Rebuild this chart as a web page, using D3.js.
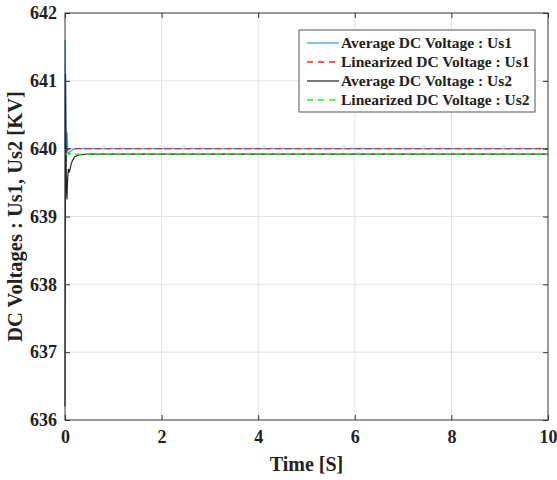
<!DOCTYPE html>
<html>
<head>
<meta charset="utf-8">
<script src="https://cdn.jsdelivr.net/npm/d3@7"></script>
<style>
  body { margin: 0; background: #fff; }
  text { font-family: "Liberation Serif", "Times New Roman", serif; font-weight: bold; }
</style>
</head>
<body>
<div id="chart"></div>
<script>
const width = 557;
const height = 480;
const margin = { top: 13, right: 9, bottom: 60, left: 65 };

// Average DC voltage Us1 (blue)
const tUs1 = [0, 0.005, 0.01, 0.015, 0.02, 0.03, 0.04, 0.05, 0.06, 0.08, 0.1, 0.15, 0.2, 0.3, 0.5, 10];
const vUs1 = [640, 641.6, 641.2, 640.6, 640.0, 639.8, 640.25, 640.1, 639.95, 639.93, 639.95, 639.98, 640.0, 640.0, 640.0, 640.0];

// Average DC voltage Us2 (black)
const tUs2 = [0, 0.005, 0.01, 0.02, 0.03, 0.04, 0.05, 0.07, 0.09, 0.12, 0.15, 0.2, 0.3, 0.5, 10];
const vUs2 = [636.2, 638.5, 641.1, 640.0, 639.4, 639.25, 639.5, 639.7, 639.65, 639.75, 639.82, 639.88, 639.91, 639.92, 639.92];

// Linearized references
const tLin = [0, 10];
const vLinUs1 = [640.0, 640.0];
const vLinUs2 = [639.92, 639.92];

const xTicks = [0, 2, 4, 6, 8, 10];
const yTicks = [636, 637, 638, 639, 640, 641, 642];

const series = [
  { name: "Average DC Voltage : Us1", t: tUs1, v: vUs1, color: "#3a96d8", dash: null, w: 1.2 },
  { name: "Linearized DC Voltage : Us1", t: tLin, v: vLinUs1, color: "#ff2020", dash: "6,4", w: 1.4 },
  { name: "Average DC Voltage : Us2", t: tUs2, v: vUs2, color: "#222", dash: null, w: 1.2 },
  { name: "Linearized DC Voltage : Us2", t: tLin, v: vLinUs2, color: "#22ee22", dash: "6,4", w: 1.4 }
];

const svg = d3.select('#chart').append('svg')
  .attr('width', width)
  .attr('height', height);

const x = d3.scaleLinear().domain([0, 10]).range([margin.left, width - margin.right]);
const y = d3.scaleLinear().domain([636, 642]).range([height - margin.bottom, margin.top]);

// grid
svg.append('g').selectAll('line.gx')
  .data(xTicks.slice(1, -1)).join('line')
  .attr('x1', d => x(d)).attr('x2', d => x(d))
  .attr('y1', y(636)).attr('y2', y(642))
  .attr('stroke', '#e2e2e2').attr('stroke-width', 1);
svg.append('g').selectAll('line.gy')
  .data(yTicks.slice(1, -1)).join('line')
  .attr('x1', x(0)).attr('x2', x(10))
  .attr('y1', d => y(d)).attr('y2', d => y(d))
  .attr('stroke', '#e2e2e2').attr('stroke-width', 1);

// lines
const line = d3.line().x(d => x(d[0])).y(d => y(d[1]));
series.forEach(s => {
  svg.append('path')
    .datum(s.t.map((t, i) => [t, s.v[i]]))
    .attr('d', line)
    .attr('fill', 'none')
    .attr('stroke', s.color)
    .attr('stroke-width', s.w)
    .attr('stroke-dasharray', s.dash);
});

// axes (ticks inward, MATLAB style)
const axisStyle = g => {
  g.select('.domain').remove();
  g.selectAll('.tick line').attr('stroke', '#333');
  g.selectAll('.tick text').attr('fill', '#222').style('font-size', '18px').style('font-weight', 'bold');
};
svg.append('g')
  .attr('transform', `translate(0,${y(636)})`)
  .call(d3.axisBottom(x).tickValues(xTicks).tickFormat(d3.format('d')).tickSize(-5).tickPadding(10))
  .call(axisStyle);
svg.append('g')
  .attr('transform', `translate(${x(0)},0)`)
  .call(d3.axisLeft(y).tickValues(yTicks).tickFormat(d3.format('d')).tickSize(-5).tickPadding(8))
  .call(axisStyle);
svg.append('g')
  .attr('transform', `translate(0,${y(642)})`)
  .call(d3.axisTop(x).tickValues(xTicks).tickSize(-5).tickFormat(''))
  .call(axisStyle);
svg.append('g')
  .attr('transform', `translate(${x(10)},0)`)
  .call(d3.axisRight(y).tickValues(yTicks).tickSize(-5).tickFormat(''))
  .call(axisStyle);

// frame
svg.append('rect')
  .attr('x', x(0)).attr('y', y(642))
  .attr('width', x(10) - x(0)).attr('height', y(636) - y(642))
  .attr('fill', 'none').attr('stroke', '#333').attr('stroke-width', 1);

// axis labels
svg.append('text')
  .attr('x', (x(0) + x(10)) / 2).attr('y', 471)
  .attr('text-anchor', 'middle')
  .style('font-size', '20px').attr('fill', '#222')
  .text('Time [S]');
svg.append('text')
  .attr('transform', `translate(22,${(y(636) + y(642)) / 2}) rotate(-90)`)
  .attr('text-anchor', 'middle')
  .style('font-size', '20.5px').attr('fill', '#222')
  .text('DC Voltages : Us1, Us2 [KV]');

// legend
const lg = svg.append('g').attr('transform', 'translate(299,30)');
lg.append('rect')
  .attr('width', 236).attr('height', 82)
  .attr('fill', '#fff').attr('stroke', '#555').attr('stroke-width', 1);
series.forEach((s, i) => {
  const yy = 13 + i * 19;
  lg.append('line')
    .attr('x1', 8).attr('x2', 40).attr('y1', yy).attr('y2', yy)
    .attr('stroke', s.color).attr('stroke-width', s.w)
    .attr('stroke-dasharray', s.dash ? '6,5' : null);
  lg.append('text')
    .attr('x', 42).attr('y', yy + 5)
    .style('font-size', '15.5px').attr('fill', '#222')
    .text(s.name);
});
</script>
</body>
</html>
